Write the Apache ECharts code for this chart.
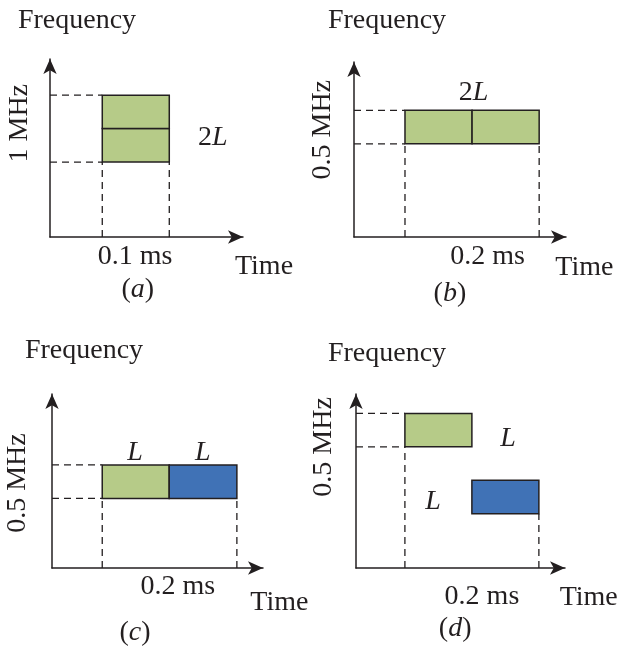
<!DOCTYPE html>
<html>
<head>
<meta charset="utf-8">
<script src="https://cdn.jsdelivr.net/npm/echarts@6/dist/echarts.min.js"></script>
<style>
  html, body { margin: 0; background: #fff; }
  #main { width: 621px; height: 650px; }
</style>
</head>
<body>
<div id="main"></div>
<script>
// time in ms, frequency in MHz
const panels = ["a", "b", "c", "d"];
const timeMax = [0.288, 0.316, 0.315, 0.312];
const freqMax = [2.66, 2.61, 2.60, 2.60];

// [panel, t0, t1, f0, f1, fill]
const blocks = [
  [0, 0.078, 0.178, 1.12, 1.62, "g"],
  [0, 0.078, 0.178, 1.62, 2.12, "g"],
  [1, 0.076, 0.176, 1.39, 1.89, "g"],
  [1, 0.176, 0.276, 1.39, 1.89, "g"],
  [2, 0.075, 0.175, 1.04, 1.54, "g"],
  [2, 0.175, 0.276, 1.04, 1.54, "b"],
  [3, 0.073, 0.173, 1.81, 2.31, "g"],
  [3, 0.173, 0.273, 0.81, 1.31, "b"]
];

// [panel, t, f, text]
const blockLabels = [
  [0, 0.243, 1.49, "2{i|L}"],
  [1, 0.178, 2.16, "2{i|L}"],
  [2, 0.124, 1.73, "{i|L}"],
  [2, 0.225, 1.73, "{i|L}"],
  [3, 0.227, 1.94, "{i|L}"],
  [3, 0.115, 0.985, "{i|L}"]
];
const bandLabels = ["1 MHz", "0.5 MHz", "0.5 MHz", "0.5 MHz"];
const bandT = [-0.045, -0.046, -0.052, -0.049];
const bandF = [1.70, 1.60, 1.27, 1.81];
const durLabels = ["0.1 ms", "0.2 ms", "0.2 ms", "0.2 ms"];
const durT = [0.127, 0.199, 0.188, 0.188];
const durF = [-0.30, -0.30, -0.28, -0.43];
const timeT = [0.276, 0.300, 0.296, 0.304];
const timeF = [-0.45, -0.45, -0.52, -0.45];
const capT = [0.131, 0.143, 0.124, 0.148];
const capF = [-0.79, -0.84, -0.97, -0.90];

const grids = [
  { left: 50, top: 59, width: 193, height: 178 },
  { left: 354, top: 62, width: 212, height: 175 },
  { left: 52, top: 394, width: 211, height: 174 },
  { left: 356, top: 394, width: 209, height: 174 }
];
const freqNameGap = [24, 27, 29, 26];
const freqNameShift = [54, 66, 64, 62];

const INK = "#231f20";
const FONT = '"Liberation Serif", "DejaVu Serif", serif';
const FS = 28;
const fills = { g: "#b6cb88", b: "#4072b6" };
const rich = { i: { fontStyle: "italic", fontFamily: FONT, fontSize: FS, fill: INK } };

function guidesFor(p) {
  const bs = blocks.filter(b => b[0] === p);
  const tL = Math.min(...bs.map(b => b[1]));
  const tR = Math.max(...bs.map(b => b[2]));
  const left = bs.filter(b => b[1] === tL);
  const right = bs.filter(b => b[2] === tR);
  const fLo = Math.min(...left.map(b => b[3]));
  const fHi = Math.max(...left.map(b => b[4]));
  const fR = Math.min(...right.map(b => b[3]));
  return [[0, fLo, tL, fLo], [0, fHi, tL, fHi], [tL, 0, tL, fLo], [tR, 0, tR, fR]];
}

function textEl(pt, text, align, rotated) {
  return {
    type: "text",
    x: pt[0],
    y: pt[1],
    rotation: rotated ? Math.PI / 2 : 0,
    silent: true,
    style: {
      text: text, x: 0, y: 0, align: align, verticalAlign: "middle",
      fontFamily: FONT, fontSize: FS, fill: INK, rich: rich
    }
  };
}

const xAxis = [], yAxis = [], series = [];
panels.forEach((name, p) => {
  xAxis.push({
    gridIndex: p, type: "value", min: 0, max: timeMax[p],
    axisLine: { show: true, onZero: false, symbol: ["none", "arrow"], symbolSize: [10, 15],
      lineStyle: { color: INK, width: 1.5 } },
    axisTick: { show: false }, axisLabel: { show: false }, splitLine: { show: false }
  });
  yAxis.push({
    gridIndex: p, type: "value", min: 0, max: freqMax[p],
    axisLine: { show: true, onZero: false, symbol: ["none", "arrow"], symbolSize: [10, 15],
      lineStyle: { color: INK, width: 1.5 } },
    axisTick: { show: false }, axisLabel: { show: false }, splitLine: { show: false },
    name: "Frequency", nameLocation: "end", nameGap: freqNameGap[p],
    nameTextStyle: { color: INK, fontFamily: FONT, fontSize: FS, align: "center",
      padding: [0, 0, 0, freqNameShift[p]] }
  });

  const guides = guidesFor(p);
  series.push({
    type: "custom", xAxisIndex: p, yAxisIndex: p, clip: false, silent: true, z: 1,
    encode: { x: [0, 2], y: [1, 3] },
    data: guides,
    renderItem: (params, api) => {
      const a = api.coord([api.value(0), api.value(1)]);
      const b = api.coord([api.value(2), api.value(3)]);
      return { type: "line", shape: { x1: a[0], y1: a[1], x2: b[0], y2: b[1] },
        style: { stroke: INK, lineWidth: 1.3, lineDash: [7, 5] } };
    }
  });

  const own = blocks.filter(b => b[0] === p);
  series.push({
    type: "custom", xAxisIndex: p, yAxisIndex: p, clip: false, silent: true, z: 2,
    encode: { x: [1, 2], y: [3, 4] },
    data: own.map(b => b.slice(0, 5)),
    renderItem: (params, api) => {
      const tl = api.coord([api.value(1), api.value(4)]);
      const br = api.coord([api.value(2), api.value(3)]);
      return { type: "rect",
        shape: { x: tl[0], y: tl[1], width: br[0] - tl[0], height: br[1] - tl[1] },
        style: { fill: fills[own[params.dataIndex][5]], stroke: INK, lineWidth: 1.5 } };
    }
  });

  // [t, f, text, align, rotated]
  const notes = blockLabels.filter(l => l[0] === p).map(l => [l[1], l[2], l[3], "center", 0]);
  notes.push([bandT[p], bandF[p], bandLabels[p], "center", 1]);
  notes.push([durT[p], durF[p], durLabels[p], "center", 0]);
  notes.push([timeT[p], timeF[p], "Time", "left", 0]);
  notes.push([capT[p], capF[p], "({i|" + name + "})", "center", 0]);
  series.push({
    type: "custom", xAxisIndex: p, yAxisIndex: p, clip: false, silent: true, z: 3,
    encode: { x: 0, y: 1 },
    data: notes.map(n => [n[0], n[1]]),
    renderItem: (params, api) => {
      const n = notes[params.dataIndex];
      const pt = api.coord([api.value(0), api.value(1)]);
      return textEl(pt, n[2], n[3], n[4]);
    }
  });
});

const chart = echarts.init(document.getElementById("main"));
chart.setOption({
  backgroundColor: "#fff",
  animation: false,
  grid: grids,
  xAxis: xAxis,
  yAxis: yAxis,
  series: series
});
</script>
</body>
</html>
